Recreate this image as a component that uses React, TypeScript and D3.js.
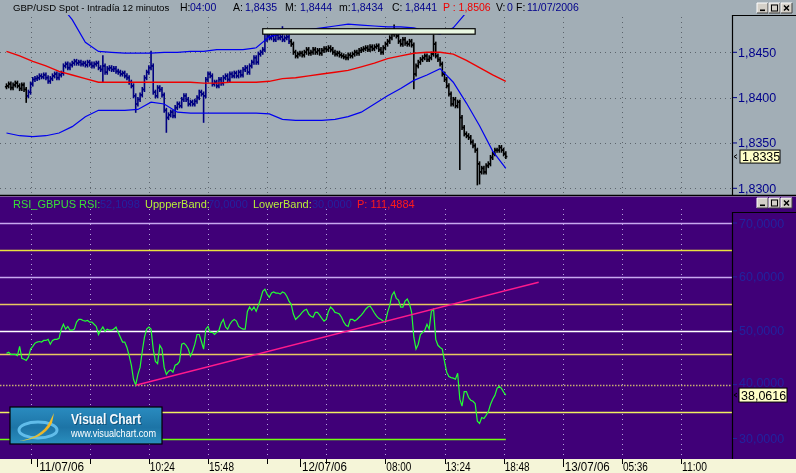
import React from "react";
import * as d3 from "d3";

// ---------------- data ----------------
const seriesStart = Date.UTC(2006, 6, 10, 21, 24); // first 12-minute bar
const barMinutes = 12;

// GBP/USD 12-min closes
const closes = [
  1.8413, 1.8415, 1.8411, 1.8414, 1.8416, 1.8413, 1.841, 1.8414,
  1.8409, 1.8402, 1.8406,
  1.8415, 1.842, 1.8421, 1.8422,
  1.8424, 1.8423, 1.8425, 1.8422,
  1.8418, 1.8421, 1.8424,
  1.8426, 1.8422, 1.8425, 1.8427,
  1.8435, 1.8437, 1.8433, 1.8436, 1.8438,
  1.844, 1.8438, 1.8439, 1.8437,
  1.8438, 1.8436, 1.8439, 1.8437, 1.8435, 1.8437, 1.8438,
  1.8433, 1.8431,
  1.8435, 1.8428, 1.8432, 1.8433, 1.8431, 1.8432, 1.8429,
  1.8428, 1.8426, 1.8427, 1.8424, 1.8422,
  1.8417, 1.8413,
  1.8402, 1.8393,
  1.8398, 1.8403, 1.8409,
  1.8422, 1.8428,
  1.8433, 1.8435,
  1.8406, 1.8402,
  1.8411, 1.8409, 1.8403,
  1.8386, 1.8378,
  1.8381, 1.8384, 1.838,
  1.8389, 1.8393, 1.8391, 1.8398,
  1.8402, 1.8398, 1.8393,
  1.8395, 1.8393, 1.8396, 1.84,
  1.8406, 1.8404, 1.8402,
  1.842, 1.8426, 1.8424, 1.8415,
  1.8417, 1.8413, 1.842, 1.8416,
  1.8422, 1.8424, 1.842, 1.8426, 1.8424,
  1.8427, 1.8424, 1.8428, 1.8425,
  1.8431, 1.8433, 1.8428, 1.8435, 1.8439,
  1.8444, 1.8439,
  1.8448, 1.845, 1.8453,
  1.8464, 1.8468,
  1.8466, 1.8468, 1.8464, 1.8469, 1.8466, 1.8467, 1.8464, 1.8466, 1.8467,
  1.8462, 1.8459,
  1.845, 1.8446,
  1.8448, 1.8449, 1.8447,
  1.845, 1.8453, 1.8449, 1.845, 1.8453, 1.845, 1.8452, 1.8449, 1.8452,
  1.8454, 1.8453, 1.8455, 1.8453,
  1.845, 1.8448, 1.8449, 1.8447, 1.8446,
  1.8445, 1.8444, 1.8447, 1.8446, 1.8448,
  1.845, 1.8449, 1.8452, 1.8453,
  1.8454, 1.8455, 1.8453, 1.8456, 1.8454,
  1.8456, 1.8457, 1.8453, 1.845, 1.8455, 1.8459, 1.8462,
  1.8466, 1.847, 1.8472, 1.8468,
  1.8462, 1.8459, 1.8464, 1.846, 1.8459, 1.8462, 1.8458,
  1.8426, 1.8435,
  1.8439, 1.8442,
  1.8444, 1.8446, 1.8442, 1.8444, 1.8448,
  1.8459,
  1.8446, 1.8442, 1.8437,
  1.8426, 1.842, 1.8413,
  1.8404,
  1.8393, 1.8398, 1.8391,
  1.8395, 1.8378,
  1.8367, 1.836, 1.8358,
  1.8356, 1.8351,
  1.8347, 1.8342, 1.8327,
  1.8318, 1.8322, 1.8318, 1.8325,
  1.8327, 1.8334, 1.8338,
  1.8342, 1.8342,
  1.8345, 1.8342, 1.8338,
  1.8335,
];
const firstOpen = 1.8412;

// isolated wicks
const spikeIndex = [9, 44, 59, 66, 73, 90, 118, 126, 177, 186, 195, 207, 215, 216];
const spikeHigh = [null, 1.8444, null, 1.8449, null, null, 1.8471, 1.8476, 1.8478, null, 1.8467, null, null, null];
const spikeLow = [1.8397, 1.842, 1.8386, null, 1.8364, 1.8375, null, null, null, 1.8412, null, 1.8323, 1.8306, 1.8307];

// envelope bands, one value every 6 bars
const bandStep = 6;
const upperBand = [
  1.8574, 1.8557, 1.8541, 1.8521, 1.8504, 1.8486, 1.8461, 1.8451, 1.845, 1.8449,
  1.8449, 1.8449, 1.845, 1.845, 1.8451, 1.8451, 1.8453, 1.8453, 1.8453, 1.8455,
  1.8467, 1.8471, 1.8472, 1.8475, 1.8477, 1.8479, 1.8481, 1.848, 1.8479, 1.8478,
  1.8478, 1.8477, 1.8473, 1.847, 1.8477, 1.8494, 1.8513, 1.853, 1.8546,
];
const middleBand = [
  1.8451, 1.8446, 1.844, 1.8435, 1.8429, 1.8425, 1.8421, 1.8417, 1.8417, 1.8417,
  1.8417, 1.8417, 1.8417, 1.8417, 1.8417, 1.8416, 1.8416, 1.8417, 1.8417, 1.8417,
  1.8418, 1.8421, 1.8422, 1.8424, 1.8426, 1.8428, 1.843, 1.8434, 1.8438, 1.8443,
  1.8446, 1.8449, 1.845, 1.845, 1.8448, 1.8441, 1.8433, 1.8425, 1.8418,
];
const lowerBand = [
  1.8361, 1.8358, 1.8357, 1.8358, 1.8361, 1.8368, 1.8379, 1.8386, 1.8386, 1.8386,
  1.8387, 1.8395, 1.8393, 1.8384, 1.8383, 1.8383, 1.8383, 1.8383, 1.8383, 1.8383,
  1.8382, 1.8376, 1.8375, 1.8375, 1.8375, 1.8376, 1.8379, 1.8384, 1.8393, 1.8402,
  1.841, 1.8419, 1.8425, 1.8432, 1.8417, 1.8394, 1.8369, 1.8341, 1.8322,
];

// RSI per bar
const rsi = [
  45.8, 46.0, 45.6, 45.6, 45.6, 45.4, 47.1, 44.9, 44.7, 44.5,
  45.1, 46.6, 47.1, 47.7, 47.9, 48.0, 47.9, 48.2, 48.2, 48.4,
  47.5, 48.2, 48.4, 48.4, 48.6, 50.3, 51.2, 50.3, 50.8, 50.1,
  50.1, 50.3, 51.6, 52.1, 52.1, 51.9, 51.8, 51.9, 51.6, 51.6,
  51.2, 50.8, 49.3, 50.1, 50.7, 49.9, 50.3, 50.1, 50.1, 50.3,
  50.7, 49.7, 48.8, 47.9, 47.9, 46.9, 45.4, 43.6, 41.0, 39.9,
  41.9, 43.2, 46.2, 48.8, 50.3, 50.7, 50.3, 46.6, 44.3, 43.9,
  47.3, 46.6, 43.2, 41.9, 42.5, 42.7, 42.3, 43.6, 43.8, 44.3,
  47.5, 47.7, 47.3, 46.6, 45.3, 46.2, 47.5, 49.3, 49.3, 48.0,
  46.6, 50.3, 50.8, 49.7, 49.7, 49.3, 49.7, 50.1, 51.4, 52.1,
  50.7, 50.3, 51.2, 51.8, 52.1, 51.8, 50.8, 50.5, 50.3, 50.3,
  53.6, 54.4, 53.8, 54.4, 53.6, 54.7, 55.9, 57.3, 57.7, 56.8,
  56.2, 57.0, 57.2, 57.0, 57.0, 56.8, 57.2, 57.0, 56.4, 55.5,
  54.9, 53.1, 52.1, 52.5, 52.9, 53.4, 53.8, 54.0, 53.1, 52.7,
  52.5, 53.4, 53.4, 52.9, 52.3, 51.8, 52.1, 53.6, 54.4, 54.0,
  53.4, 53.3, 53.1, 52.5, 51.6, 51.0, 50.8, 52.1, 52.1, 51.8,
  52.1, 52.5, 52.9, 53.4, 54.0, 54.4, 54.6, 54.0, 53.3, 52.7,
  52.3, 52.1, 51.8, 51.6, 53.4, 54.7, 56.6, 57.2, 56.0, 55.7,
  54.4, 54.4, 55.5, 55.9, 55.0, 53.4, 48.8, 46.6, 47.5, 49.3,
  49.7, 50.1, 51.2, 50.3, 53.6, 54.0, 48.4, 47.3, 46.9, 46.6,
  44.3, 42.3, 41.5, 41.3, 41.2, 41.0, 42.1, 37.3, 36.0, 38.7,
  38.7, 37.6, 37.1, 36.9, 36.5, 33.2, 32.8, 33.9, 33.7, 34.3,
  35.0, 36.3, 37.3, 38.0, 39.3, 39.7, 39.3, 38.6, 38.0616,
];
const lowerBandValue = 30;
const rsiTrendBars = [59, 243];
const rsiTrendValues = [39.9, 59.0];

const rsiLevels = [70, 65, 60, 55, 50, 45.6, 40, 35];
const rsiLevelColors = ["#c8a8f0", "#e8e040", "#c8a8f0", "#e8c860", "#ffffff", "#e8c860", "#c8b070", "#f0f060"];

const priceTicks = [1.845, 1.84, 1.835, 1.83];
const rsiTicks = [70, 60, 50, 40, 30];

const gridTimes = [
  "2006-07-10T23:36Z", "2006-07-11T05:00Z", "2006-07-11T10:24Z", "2006-07-11T15:48Z",
  "2006-07-11T21:12Z", "2006-07-12T02:36Z", "2006-07-12T08:00Z", "2006-07-12T13:24Z",
  "2006-07-12T18:48Z", "2006-07-13T00:12Z", "2006-07-13T05:36Z", "2006-07-13T11:00Z",
];
const gridLabels = ["", "", "10:24", "15:48", "", "", "08:00", "13:24", "18:48", "", "05:36", "11:00"];
const dayTicks = ["2006-07-11T00:12Z", "2006-07-12T00:12Z", "2006-07-13T00:12Z"];
const dayLabels = ["11/07/06", "12/07/06", "13/07/06"];

const boxFromBar = 117;
const boxToBar = 214;
const boxTop = 1.8476;
const boxBottom = 1.847;

const lastPrice = 1.8335;
const lastRsi = 38.0616;

// ---------------- layout ----------------
const W = 796;
const H = 473;
const X0 = 6.5;
const BAR_W = 2.19;
const PLOT_R = 732;
const TOP_Y0 = 15;
const TOP_Y1 = 195;
const RSI_Y0 = 197;
const RSI_Y1 = 459;
const FONT = "'Liberation Sans', Arial, sans-serif";
const AXIS_NAVY = "#22229e";

const fmt4 = (v: number) => d3.format(".4f")(v).replace(".", ",");

function WinButtons({ x, y }: { x: number; y: number }) {
  const items = ["min", "max", "close"];
  return (
    <g>
      {items.map((k, j) => {
        const bx = x + j * 12;
        return (
          <g key={k}>
            <rect x={bx} y={y} width={11} height={10} fill="#d4d0c8" />
            <path d={`M${bx},${y + 10} L${bx},${y} L${bx + 11},${y}`} stroke="#fff" fill="none" />
            <path d={`M${bx},${y + 10} L${bx + 11},${y + 10} L${bx + 11},${y}`} stroke="#404040" fill="none" />
            {k === "min" && <rect x={bx + 3} y={y + 6.5} width={5} height={1.6} fill="#000" />}
            {k === "max" && <rect x={bx + 2.5} y={y + 2} width={6} height={6} fill="none" stroke="#000" strokeWidth={1} />}
            {k === "close" && (
              <path d={`M${bx + 3},${y + 2.5} L${bx + 8},${y + 7.5} M${bx + 8},${y + 2.5} L${bx + 3},${y + 7.5}`} stroke="#000" strokeWidth={1.5} />
            )}
          </g>
        );
      })}
    </g>
  );
}

export default function App() {
  const barMs = barMinutes * 60000;
  const span = 340;
  const xScale = d3
    .scaleUtc()
    .domain([new Date(seriesStart), new Date(seriesStart + span * barMs)])
    .range([X0, X0 + span * BAR_W]);
  const xs = (i: number) => xScale(new Date(seriesStart + i * barMs));

  const yP = d3.scaleLinear().domain([1.83, 1.845]).range([188.3, 52.3]);
  const yR = d3.scaleLinear().domain([30, 70]).range([438.5, 223]);

  const bandLine = d3
    .line<number>()
    .x((_, k) => xs(k * bandStep))
    .y((v) => yP(v));
  const rsiLine = d3
    .line<number>()
    .x((_, i) => xs(i))
    .y((v) => yR(v));

  const bars = closes.map((c, i) => {
    const o = i > 0 ? closes[i - 1] : firstOpen;
    let hi = Math.max(o, c);
    let lo = Math.min(o, c);
    const s = spikeIndex.indexOf(i);
    if (s >= 0) {
      if (spikeHigh[s] != null) hi = Math.max(hi, spikeHigh[s] as number);
      if (spikeLow[s] != null) lo = Math.min(lo, spikeLow[s] as number);
    }
    const x = xs(i);
    const color = i >= 10 && i <= 129 ? "#000080" : "#000000";
    return (
      <g key={i} stroke={color} strokeWidth={1.6}>
        <line x1={x} x2={x} y1={yP(hi) - 2.5} y2={yP(lo) + 2.5} />
        <line x1={x - 1.6} x2={x} y1={yP(o)} y2={yP(o)} />
        <line x1={x} x2={x + 1.6} y1={yP(c)} y2={yP(c)} />
      </g>
    );
  });

  const gridXs = gridTimes.map((t) => xScale(new Date(t)));
  const dayXs = dayTicks.map((t) => xScale(new Date(t)));
  const lastX = xs(closes.length - 1);

  // text, start x, colour, font size
  const topTitle: [string, number, string, number][] = [
    ["GBP/USD Spot - Intradía 12 minutos", 13, "#000", 9.6],
    ["H:", 180, "#000", 10.5],
    ["04:00", 190, "#00008b", 10.5],
    ["A:", 233, "#000", 10.5],
    ["1,8435", 245, "#00008b", 10.5],
    ["M:", 285, "#000", 10.5],
    ["1,8444", 300, "#00008b", 10.5],
    ["m:", 339, "#000", 10.5],
    ["1,8434", 351, "#00008b", 10.5],
    ["C:", 392, "#000", 10.5],
    ["1,8441", 405, "#00008b", 10.5],
    ["P : 1,8506", 443, "#ee0000", 10.5],
    ["V:", 496, "#000", 10.5],
    ["0", 507, "#00008b", 10.5],
    ["F:", 516, "#000", 10.5],
    ["11/07/2006", 527, "#00008b", 10.5],
  ];
  const rsiTitle: [string, number, string][] = [
    ["RSI_GBPUS RSI:", 13, "#38e038"],
    ["52,1098", 100, AXIS_NAVY],
    ["UppperBand:", 145, "#b8f038"],
    ["70,0000", 208, AXIS_NAVY],
    ["LowerBand:", 253, "#b8f038"],
    ["30,0000", 312, AXIS_NAVY],
    ["P: 111,4884", 357, "#ff1a1a"],
  ];

  return (
    <svg
      width={W}
      height={H}
      viewBox={`0 0 ${W} ${H}`}
      style={{ position: "fixed", left: 0, top: 0, display: "block" }}
      fontFamily={FONT}
    >
      <defs>
        <clipPath id="topClip">
          <rect x={0} y={TOP_Y0} width={PLOT_R} height={TOP_Y1 - TOP_Y0} />
        </clipPath>
        <clipPath id="rsiClip">
          <rect x={0} y={RSI_Y0} width={PLOT_R} height={RSI_Y1 - RSI_Y0} />
        </clipPath>
        <linearGradient id="vcGrad" x1="0" y1="0" x2="0" y2="1">
          <stop offset="0" stopColor="#2a8cc0" />
          <stop offset="0.55" stopColor="#1d74a6" />
          <stop offset="1" stopColor="#2a8fbf" />
        </linearGradient>
        <linearGradient id="swoosh" x1="0" y1="1" x2="1" y2="0">
          <stop offset="0" stopColor="#c8d060" />
          <stop offset="0.6" stopColor="#f0b020" />
          <stop offset="1" stopColor="#f8c830" />
        </linearGradient>
      </defs>

      {/* ---------- price panel ---------- */}
      <rect x={0} y={0} width={W} height={TOP_Y1} fill="#a2aeb6" />
      <g stroke="#5c646c" strokeWidth={1} strokeDasharray="1,4">
        {gridXs.map((x, k) => (
          <line key={k} x1={Math.round(x) + 0.5} x2={Math.round(x) + 0.5} y1={TOP_Y0 + 2} y2={TOP_Y1} />
        ))}
        {priceTicks.map((p) => (
          <line key={p} x1={0} x2={PLOT_R} y1={Math.round(yP(p)) + 0.5} y2={Math.round(yP(p)) + 0.5} />
        ))}
      </g>
      <g clipPath="url(#topClip)">
        {bars}
        <path d={bandLine(middleBand) || ""} fill="none" stroke="#ee0000" strokeWidth={1.4} />
        <path d={bandLine(upperBand) || ""} fill="none" stroke="#0000f0" strokeWidth={1.2} />
        <path d={bandLine(lowerBand) || ""} fill="none" stroke="#0000f0" strokeWidth={1.2} />
        <rect
          x={xs(boxFromBar)}
          y={yP(boxTop)}
          width={xs(boxToBar) - xs(boxFromBar)}
          height={yP(boxBottom) - yP(boxTop)}
          fill="#eaf8e2"
          stroke="#000"
          strokeWidth={1.2}
        />
      </g>
      <g>
        {topTitle.map(([t, x, c, fs], k) => (
          <text key={k} x={x} y={11} fill={c} fontSize={fs}>
            {t}
          </text>
        ))}
      </g>
      <WinButtons x={757} y={3} />
      {/* price axis */}
      <path d={`M${PLOT_R + 0.5},${TOP_Y1} L${PLOT_R + 0.5},${TOP_Y0 + 0.5} L${W},${TOP_Y0 + 0.5}`} fill="none" stroke="#000" strokeWidth={1.2} />
      {priceTicks.map((p) => (
        <g key={p}>
          <line x1={PLOT_R + 1} x2={PLOT_R + 5} y1={yP(p)} y2={yP(p)} stroke="#00008b" />
          <text x={PLOT_R + 6} y={yP(p) + 4.5} fontSize={12.5} fill="#00008b">
            {fmt4(p)}
          </text>
        </g>
      ))}
      <g>
        <path d={`M${PLOT_R + 5},${yP(lastPrice) - 2} L${PLOT_R + 2},${yP(lastPrice)} L${PLOT_R + 5},${yP(lastPrice) + 2}`} fill="none" stroke="#000" />
        <rect x={PLOT_R + 8} y={yP(lastPrice) - 6.5} width={40} height={13} fill="#ffffc8" stroke="#000" />
        <text x={PLOT_R + 10} y={yP(lastPrice) + 4.5} fontSize={12.5} fill="#000">
          {fmt4(lastPrice)}
        </text>
      </g>
      <line x1={0} x2={W} y1={TOP_Y1 + 0.5} y2={TOP_Y1 + 0.5} stroke="#000" strokeWidth={1.5} />

      {/* ---------- RSI panel ---------- */}
      <rect x={0} y={RSI_Y0 - 0.5} width={W} height={RSI_Y1 - RSI_Y0 + 0.5} fill="#400078" />
      <g stroke="#b4a0dc" strokeWidth={1} strokeDasharray="1,4">
        {gridXs.map((x, k) => (
          <line key={k} x1={Math.round(x) + 0.5} x2={Math.round(x) + 0.5} y1={RSI_Y0 + 12} y2={RSI_Y1} />
        ))}
      </g>
      <g clipPath="url(#rsiClip)">
        {rsiLevels.map((v, k) => (
          <line
            key={v}
            x1={0}
            x2={PLOT_R}
            y1={Math.round(yR(v)) + 0.5}
            y2={Math.round(yR(v)) + 0.5}
            stroke={rsiLevelColors[k]}
            strokeWidth={1.3}
            strokeDasharray={v === 40 ? "1.5,1.5" : undefined}
          />
        ))}
        <line x1={0} x2={lastX} y1={Math.round(yR(lowerBandValue)) + 0.5} y2={Math.round(yR(lowerBandValue)) + 0.5} stroke="#70ff10" strokeWidth={1.3} />
        <path d={rsiLine(rsi) || ""} fill="none" stroke="#22ff33" strokeWidth={1.2} />
        <line
          x1={xs(rsiTrendBars[0])}
          y1={yR(rsiTrendValues[0])}
          x2={xs(rsiTrendBars[1])}
          y2={yR(rsiTrendValues[1])}
          stroke="#ff1a8c"
          strokeWidth={1.5}
        />
      </g>
      <g fontSize={11}>
        {rsiTitle.map(([t, x, c], k) => (
          <text key={k} x={x} y={207.5} fill={c}>
            {t}
          </text>
        ))}
      </g>
      <WinButtons x={757} y={198} />
      <path d={`M${PLOT_R + 0.5},${RSI_Y1} L${PLOT_R + 0.5},${212.5} L${W},${212.5}`} fill="none" stroke="#000" strokeWidth={1.2} />
      {rsiTicks.map((v) => (
        <g key={v}>
          <line x1={PLOT_R + 1} x2={PLOT_R + 5} y1={yR(v)} y2={yR(v)} stroke={AXIS_NAVY} />
          <text x={PLOT_R + 7} y={yR(v) + (v === 40 ? 2.5 : 4.5)} fontSize={12.5} fill={AXIS_NAVY}>
            {fmt4(v)}
          </text>
        </g>
      ))}
      <g>
        <path d={`M${PLOT_R + 5},${yR(lastRsi) - 2} L${PLOT_R + 2},${yR(lastRsi)} L${PLOT_R + 5},${yR(lastRsi) + 2}`} fill="none" stroke="#000" />
        <rect x={PLOT_R + 7} y={yR(lastRsi) - 7} width={48} height={14} fill="#ffffc8" stroke="#000" />
        <text x={PLOT_R + 9} y={yR(lastRsi) + 4.5} fontSize={12.5} fill="#000">
          {fmt4(lastRsi)}
        </text>
      </g>

      {/* logo */}
      <g transform="translate(10,407)">
        <rect x={0} y={0} width={152} height={37} fill="url(#vcGrad)" stroke="#000" strokeWidth={1.2} />
        <ellipse cx={28} cy={23} rx={19} ry={8} fill="none" stroke="#6cc8f4" strokeWidth={3} opacity={0.85} />
        <path d="M9,34 C22,32 34,26 40,14 L44,6 L42,16 C36,28 24,33 9,34 Z" fill="url(#swoosh)" />
        <text x={62} y={18} fontSize={14} fontWeight="bold" fill="#0b3a5a" textLength={70} lengthAdjust="spacingAndGlyphs" opacity={0.6}>
          Visual Chart
        </text>
        <text x={61} y={17} fontSize={14} fontWeight="bold" fill="#f4f8fc" textLength={70} lengthAdjust="spacingAndGlyphs">
          Visual Chart
        </text>
        <text x={61} y={30} fontSize={10} fill="#ffffff" textLength={85} lengthAdjust="spacingAndGlyphs">
          www.visualchart.com
        </text>
      </g>

      {/* ---------- time axis ---------- */}
      <rect x={0} y={RSI_Y1} width={W} height={H - RSI_Y1} fill="#f5f5d8" />
      <line x1={PLOT_R + 0.5} x2={PLOT_R + 0.5} y1={RSI_Y1 - 8} y2={RSI_Y1} stroke="#000" />
      <g stroke="#000" strokeWidth={1}>
        {gridXs.map((x, k) => (
          <line key={k} x1={Math.round(x) + 0.5} x2={Math.round(x) + 0.5} y1={RSI_Y1} y2={RSI_Y1 + 5} />
        ))}
        {dayXs.map((x, k) => (
          <line key={k} x1={Math.round(x) + 0.5} x2={Math.round(x) + 0.5} y1={RSI_Y1} y2={RSI_Y1 + 8} />
        ))}
      </g>
      <g fontSize={13} fill="#000">
        {gridLabels.map((l, k) =>
          l ? (
            <text key={k} x={gridXs[k] + 1} y={471} textLength={25} lengthAdjust="spacingAndGlyphs">
              {l}
            </text>
          ) : null
        )}
        {dayLabels.map((l, k) => (
          <text key={k} x={dayXs[k] + 2} y={471} textLength={45} lengthAdjust="spacingAndGlyphs">
            {l}
          </text>
        ))}
      </g>
    </svg>
  );
}
